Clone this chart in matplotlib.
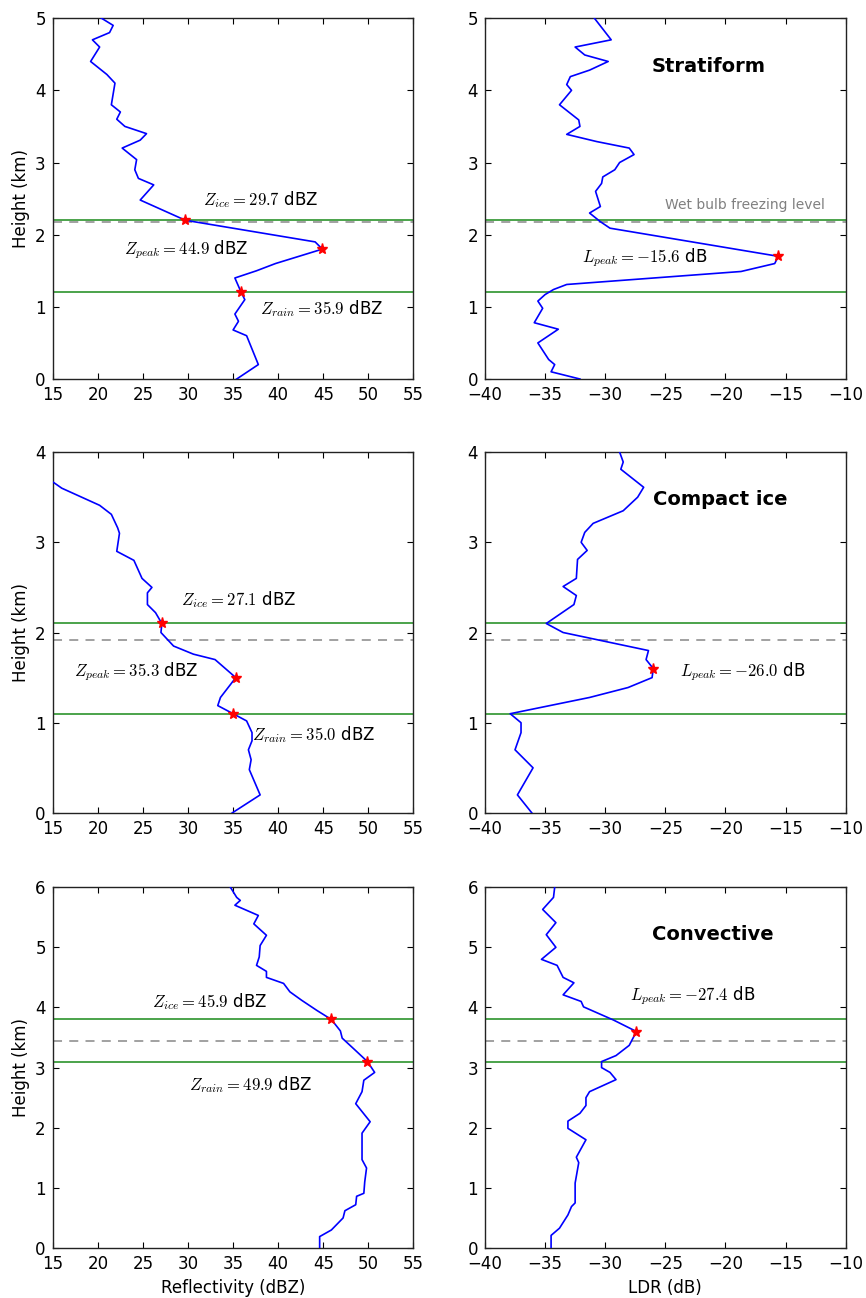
import matplotlib
matplotlib.use("Agg")
import matplotlib.pyplot as plt

plt.rcParams.update({
    "font.family": ["DejaVu Sans"],
    "mathtext.fontset": "cm",
    "font.size": 12,
    "xtick.direction": "in",
    "ytick.direction": "in",
    "xtick.top": True,
    "ytick.right": True,
    "xtick.major.size": 4,
    "ytick.major.size": 4,
    "xtick.major.pad": 5,
    "ytick.major.pad": 5,
    "axes.linewidth": 1.0,
})

# ---- Stratiform ----
strat_z_h = [5.0, 4.9, 4.8, 4.7, 4.6, 4.4, 4.22, 4.1, 3.8, 3.7, 3.6, 3.5, 3.4, 3.31, 3.2, 3.04,
             2.9, 2.78, 2.69, 2.48, 2.2, 1.9, 1.8, 1.6, 1.5, 1.4, 1.2, 1.1, 0.9, 0.8, 0.68, 0.6,
             0.2, 0.0]
strat_z = [20.4, 21.7, 21.3, 19.4, 20.2, 19.2, 21.0, 21.9, 21.5, 22.5, 22.1, 23.0, 25.4, 24.7,
           22.7, 24.3, 24.1, 24.5, 26.2, 24.7, 29.7, 44.1, 44.9, 39.7, 37.6, 35.2, 35.9, 36.3,
           35.2, 35.6, 35.0, 36.5, 37.8, 35.4]
strat_l_h = [5.0, 4.7, 4.6, 4.49, 4.4, 4.28, 4.19, 4.08, 4.0, 3.8, 3.59, 3.5, 3.39, 3.29, 3.2,
             3.11, 3.0, 2.9, 2.8, 2.71, 2.6, 2.39, 2.3, 2.18, 2.09, 1.7, 1.6, 1.49, 1.31, 1.24,
             1.17, 1.08, 0.98, 0.78, 0.69, 0.5, 0.27, 0.2, 0.1, 0.0]
strat_l = [-30.9, -29.5, -32.5, -31.7, -29.75, -31.3, -32.9, -33.2, -32.8, -33.8, -32.2, -32.1,
           -33.2, -30.7, -28.0, -27.6, -28.8, -29.2, -30.2, -30.3, -30.8, -30.4, -31.3, -30.4,
           -29.6, -15.6, -15.9, -18.7, -33.2, -34.3, -35.0, -35.6, -35.2, -35.9, -33.9, -35.6,
           -34.7, -34.2, -34.5, -32.1]

# ---- Compact ice ----
comp_z_h = [3.67, 3.6, 3.41, 3.31, 3.16, 3.1, 2.9, 2.8, 2.6, 2.5, 2.44, 2.31, 2.22, 2.1, 2.0,
            1.85, 1.76, 1.7, 1.5, 1.28, 1.19, 1.1, 1.02, 0.89, 0.8, 0.7, 0.59, 0.48, 0.2, 0.0]
comp_z = [15.0, 16.0, 20.2, 21.5, 22.2, 22.4, 22.1, 24.0, 24.9, 26.0, 25.5, 25.5, 26.4, 27.1,
          27.0, 28.4, 30.6, 33.0, 35.3, 33.6, 33.3, 35.0, 36.5, 37.1, 37.1, 36.7, 37.0, 36.8,
          38.0, 34.9]
comp_l_h = [4.0, 3.89, 3.81, 3.61, 3.5, 3.35, 3.21, 3.11, 3.0, 2.91, 2.81, 2.6, 2.51, 2.41,
            2.31, 2.1, 2.0, 1.8, 1.7, 1.6, 1.5, 1.39, 1.28, 1.1, 1.0, 0.89, 0.7, 0.5, 0.2, 0.0]
comp_l = [-28.8, -28.5, -28.7, -26.8, -27.3, -28.5, -31.0, -31.7, -32.0, -31.5, -32.3, -32.4,
          -33.5, -32.4, -32.6, -34.9, -33.5, -26.4, -26.6, -26.0, -26.1, -28.1, -31.3, -37.9,
          -37.0, -37.0, -37.5, -36.0, -37.3, -36.1]

# ---- Convective ----
conv_z_h = [6.0, 5.83, 5.78, 5.7, 5.53, 5.39, 5.2, 5.03, 4.84, 4.7, 4.6, 4.5, 4.4, 4.26, 4.12,
            3.95, 3.8, 3.61, 3.49, 3.31, 3.1, 2.92, 2.79, 2.6, 2.4, 2.1, 1.91, 1.47, 1.33, 1.1,
            0.91, 0.86, 0.72, 0.62, 0.5, 0.3, 0.19, 0.0]
conv_z = [34.7, 35.4, 35.8, 35.2, 37.8, 37.3, 38.7, 38.0, 37.9, 37.6, 38.7, 38.7, 40.6, 41.3,
          42.6, 44.3, 45.9, 46.9, 47.1, 48.4, 49.9, 50.7, 49.5, 49.3, 48.6, 50.2, 49.3, 49.3,
          49.8, 49.6, 49.5, 48.7, 48.6, 47.4, 47.2, 45.9, 44.6, 44.6]
conv_l_h = [6.0, 5.83, 5.63, 5.41, 5.21, 5.0, 4.8, 4.7, 4.5, 4.41, 4.21, 4.1, 4.01, 3.79, 3.6,
            3.37, 3.2, 3.1, 3.0, 2.92, 2.8, 2.6, 2.5, 2.37, 2.24, 2.11, 1.99, 1.8, 1.51, 1.42,
            1.08, 0.75, 0.69, 0.55, 0.33, 0.21, 0.0]
conv_l = [-34.2, -34.3, -35.2, -34.1, -34.9, -34.1, -35.3, -34.0, -33.5, -32.6, -33.5, -32.0,
          -31.8, -29.3, -27.4, -28.0, -29.1, -30.3, -30.3, -29.6, -29.1, -31.3, -31.6, -31.6,
          -32.1, -33.1, -33.1, -31.6, -32.4, -32.2, -32.5, -32.5, -32.8, -33.1, -33.8, -34.5,
          -34.5]

# Characteristic levels and values per regime
regimes = ["Stratiform", "Compact ice", "Convective"]
ymax = [5, 4, 6]
ice_height = [2.2, 2.1, 3.8]
rain_height = [1.2, 1.1, 3.1]
wetbulb_height = [2.17, 1.915, 3.45]
z_ice = [29.7, 27.1, 45.9]
z_rain = [35.9, 35.0, 49.9]
z_peak = [44.9, 35.3, None]
z_peak_height = [1.8, 1.5, None]
l_peak = [-15.6, -26.0, -27.4]
l_peak_height = [1.7, 1.6, 3.6]

z_profiles = [(strat_z, strat_z_h), (comp_z, comp_z_h), (conv_z, conv_z_h)]
l_profiles = [(strat_l, strat_l_h), (comp_l, comp_l_h), (conv_l, conv_l_h)]

# Label placement (data coordinates)
zice_pos = [(31.7, 2.48), (29.2, 2.37), (26.0, 4.1)]
zrain_pos = [(38.0, 0.97), (37.1, 0.87), (30.1, 2.71)]
zpeak_pos = [(22.9, 1.79), (17.4, 1.57), None]
lpeak_pos = [(-31.9, 1.68), (-23.8, 1.57), (-27.9, 4.2)]
title_pos = [(-26.1, 4.33), (-26.0, 3.48), (-26.1, 5.21)]

fig = plt.figure(figsize=(8.66, 12.98), dpi=100)
fig.patch.set_facecolor("white")

row_bottoms = [0.708, 0.3737, 0.0385]
row_h = 0.278
left_x, right_x, ax_w = 0.0609, 0.560, 0.4165

green = "#3d9c3d"
dash_gray = "#9a9a9a"
txt_kw = dict(fontsize=12, va="center", ha="left")

for i in range(3):
    axz = fig.add_axes([left_x, row_bottoms[i], ax_w, row_h])
    axl = fig.add_axes([right_x, row_bottoms[i], ax_w, row_h])

    for ax in (axz, axl):
        ax.axhline(ice_height[i], color=green, lw=1.3, zorder=2)
        ax.axhline(rain_height[i], color=green, lw=1.3, zorder=2)
        ax.axhline(wetbulb_height[i], color=dash_gray, lw=1.3, ls=(0, (5, 4)), zorder=1)
        ax.set_ylim(0, ymax[i])
        ax.set_yticks(range(0, ymax[i] + 1))
        for s in ax.spines.values():
            s.set_color("#222222")

    # Reflectivity panel
    zv, zh = z_profiles[i]
    axz.plot(zv, zh, color="blue", lw=1.2, zorder=3)
    axz.plot([z_ice[i]], [ice_height[i]], marker="*", color="red", ms=8, mec="red", zorder=4)
    axz.plot([z_rain[i]], [rain_height[i]], marker="*", color="red", ms=8, mec="red", zorder=4)
    axz.text(*zice_pos[i], r"$Z_{ice}=%.1f$ dBZ" % z_ice[i], **txt_kw)
    axz.text(*zrain_pos[i], r"$Z_{rain}=%.1f$ dBZ" % z_rain[i], **txt_kw)
    if z_peak[i] is not None:
        axz.plot([z_peak[i]], [z_peak_height[i]], marker="*", color="red", ms=8, mec="red", zorder=4)
        axz.text(*zpeak_pos[i], r"$Z_{peak}=%.1f$ dBZ" % z_peak[i], **txt_kw)
    axz.set_xlim(15, 55)
    axz.set_xticks(range(15, 56, 5))
    axz.set_ylabel("Height (km)", fontsize=12, labelpad=4)

    # LDR panel
    lv, lh = l_profiles[i]
    axl.plot(lv, lh, color="blue", lw=1.2, zorder=3)
    axl.plot([l_peak[i]], [l_peak_height[i]], marker="*", color="red", ms=8, mec="red", zorder=4)
    axl.text(*lpeak_pos[i], r"$L_{peak}=%.1f$ dB" % l_peak[i], **txt_kw)
    axl.text(*title_pos[i], regimes[i], fontsize=14, fontweight="bold", va="center", ha="left")
    axl.set_xlim(-40, -10)
    axl.set_xticks(range(-40, -9, 5))
    axl.set_xticklabels(["\u2212%d" % abs(v) for v in range(-40, -9, 5)])

    if i == 0:
        axl.text(-25.0, 2.41, "Wet bulb freezing level", fontsize=10, color="#808080",
                 va="center", ha="left")
    if i == 2:
        axz.set_xlabel("Reflectivity (dBZ)", fontsize=12, labelpad=4)
        axl.set_xlabel("LDR (dB)", fontsize=12, labelpad=4)

fig.savefig("out.png", dpi=100, facecolor="white")
